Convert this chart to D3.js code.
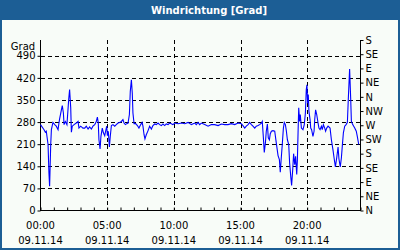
<!DOCTYPE html>
<html>
<head>
<meta charset="utf-8">
<script src="https://cdn.jsdelivr.net/npm/d3@7"></script>
<style>
    html, body { margin: 0; padding: 0; background: #f8fcf8; }
    svg { display: block; font-family: "DejaVu Sans", sans-serif; }
    .grid line { stroke: #000; stroke-dasharray: 4,3; shape-rendering: crispEdges; }
    .axis-line { stroke: #000; shape-rendering: crispEdges; }
    .lbl { font-size: 10px; fill: #000; }
</style>
</head>
<body>
<svg id="chart" width="400" height="250"></svg>
<script>
// Windrichtung, 09.11.14 - minutes since 00:00 and direction in degrees
const minutes = [0, 16, 22, 26, 34, 38, 41, 46, 49, 56, 64, 71, 79, 83, 86, 94, 98, 103, 106, 112,
    119, 127, 131, 136, 139, 143, 151, 161, 169, 173, 181, 191, 199, 206, 214, 221, 229, 236, 244, 251,
    256, 260, 263, 268, 272, 278, 283, 289, 293, 298, 301, 305, 310, 314, 319, 326, 334, 341, 349, 356,
    364, 371, 376, 382, 388, 394, 400, 404, 409, 413, 416, 421, 428, 436, 443, 451, 457, 461, 466, 470,
    476, 484, 491, 499, 506, 514, 521, 529, 536, 544, 551, 559, 566, 574, 581, 589, 596, 604, 619, 634,
    649, 664, 679, 694, 701, 709, 716, 724, 739, 754, 769, 784, 799, 814, 829, 844, 859, 874, 889, 904,
    911, 919, 926, 934, 941, 949, 956, 964, 971, 979, 986, 994, 998, 1003, 1007, 1012, 1016, 1021, 1025, 1030,
    1034, 1039, 1046, 1054, 1061, 1069, 1075, 1079, 1084, 1088, 1093, 1097, 1102, 1106, 1111, 1117, 1121, 1126, 1130, 1135,
    1139, 1144, 1148, 1153, 1156, 1159, 1162, 1166, 1169, 1174, 1181, 1187, 1192, 1196, 1199, 1202, 1205, 1208, 1213, 1216,
    1220, 1226, 1231, 1234, 1238, 1243, 1249, 1253, 1258, 1264, 1268, 1273, 1279, 1283, 1288, 1294, 1303, 1309, 1316, 1321,
    1327, 1333, 1339, 1343, 1349, 1354, 1358, 1363, 1369, 1375, 1381, 1385, 1391, 1396, 1399, 1405, 1414, 1421, 1426, 1432];
const degrees = [272, 256, 248, 251, 209, 119, 77, 209, 256, 279, 272, 267, 256, 277, 290, 319, 332, 309, 272, 282,
    272, 353, 383, 325, 248, 267, 272, 277, 282, 261, 267, 261, 261, 267, 258, 265, 258, 267, 272, 282,
    296, 277, 224, 195, 235, 261, 246, 237, 251, 267, 237, 251, 201, 235, 269, 272, 267, 272, 277, 279,
    282, 288, 277, 272, 275, 277, 304, 377, 414, 372, 309, 275, 275, 269, 261, 272, 279, 267, 240, 227,
    240, 253, 267, 258, 269, 274, 272, 277, 272, 269, 274, 269, 274, 272, 277, 275, 272, 277, 275, 277,
    275, 279, 272, 277, 272, 279, 272, 277, 272, 267, 272, 272, 269, 274, 272, 272, 275, 272, 277, 275,
    269, 261, 267, 272, 279, 272, 267, 261, 267, 269, 272, 277, 282, 230, 184, 214, 251, 274, 230, 224,
    243, 251, 253, 251, 214, 174, 161, 121, 172, 209, 261, 279, 272, 254, 224, 209, 151, 109, 79, 130,
    180, 145, 172, 114, 161, 246, 325, 282, 304, 261, 256, 272, 309, 383, 398, 340, 367, 314, 288, 261,
    256, 235, 251, 288, 319, 304, 277, 261, 256, 267, 256, 272, 261, 251, 261, 267, 261, 224, 193, 167,
    138, 167, 201, 163, 138, 167, 203, 246, 267, 272, 279, 351, 448, 351, 282, 272, 261, 251, 233, 209];

const gradTicks = [0, 70, 140, 210, 280, 350, 420, 490];
const compassTicks = [0, 45, 90, 135, 180, 225, 270, 315, 360, 405, 450, 495, 540];
const compassLabels = ["N", "NE", "E", "SE", "S", "SW", "W", "NW", "N", "NE", "E", "SE", "S"];
const hourLabels = ["00:00", "05:00", "10:00", "15:00", "20:00"];
const dateLabel = "09.11.14";
const titleText = "Windrichtung [Grad]";
const unitText = "Grad";

function drawWindChart() {
    const svg = d3.select("#chart");
    const blue = "#1c5e95";

    // 1. Frame & title bar
    svg.append("rect").attr("x", 0).attr("y", 0).attr("width", 400).attr("height", 250).attr("fill", blue);
    svg.append("rect").attr("x", 2).attr("y", 20).attr("width", 396).attr("height", 228).attr("fill", "#f8fcf8");
    svg.append("text").attr("x", 209).attr("y", 14).attr("text-anchor", "middle")
        .attr("fill", "#fff").style("font-size", "10px").style("font-weight", "bold").text(titleText);

    // 2. Scales
    const left = 40.5, right = 360.5, top = 40, bottom = 210.5;
    const x = d3.scaleLinear().domain([0, 1440]).range([left, right]);
    const y = d3.scaleLinear().domain([0, 540]).range([bottom, top]);
    const hourTicks = hourLabels.map(s => +s.slice(0, 2) * 60);

    // 3. Grid
    const grid = svg.append("g").attr("class", "grid");
    grid.selectAll(".h").data(gradTicks.slice(1)).join("line")
        .attr("x1", left).attr("x2", right)
        .attr("y1", d => Math.round(y(d)) + 0.5).attr("y2", d => Math.round(y(d)) + 0.5);
    grid.selectAll(".v").data(hourTicks.slice(1)).join("line")
        .attr("y1", top).attr("y2", bottom)
        .attr("x1", d => Math.round(x(d)) + 0.5).attr("x2", d => Math.round(x(d)) + 0.5);

    // 4. Axes
    const gl = svg.append("g").attr("transform", `translate(${left},0)`)
        .call(d3.axisLeft(y).tickValues(gradTicks).tickSize(3).tickPadding(2));
    const gr = svg.append("g").attr("transform", `translate(${right},0)`)
        .call(d3.axisRight(y).tickValues(compassTicks).tickSize(3).tickPadding(2)
            .tickFormat((d, i) => compassLabels[i]));
    const gb = svg.append("g").attr("transform", `translate(0,${bottom})`)
        .call(d3.axisTop(x).tickValues(d3.range(0, 1441, 60)).tickSize(3).tickFormat(""));
    [gl, gr, gb].forEach(g => {
        g.select(".domain").remove();
        g.selectAll("line").attr("stroke", "#000");
        g.selectAll("text").attr("class", "lbl").attr("fill", "#000").style("font-family", null).style("font-size", null);
        g.attr("font-family", null).attr("font-size", null);
    });
    svg.append("line").attr("class", "axis-line").attr("x1", left).attr("x2", left).attr("y1", top).attr("y2", bottom + 0.5);
    svg.append("line").attr("class", "axis-line").attr("x1", right).attr("x2", right).attr("y1", top).attr("y2", bottom + 0.5);
    svg.append("line").attr("class", "axis-line").attr("x1", left).attr("x2", right).attr("y1", bottom).attr("y2", bottom);

    svg.append("text").attr("class", "lbl").attr("x", 23).attr("y", 50).attr("text-anchor", "middle").text(unitText);

    const xl = svg.append("g").selectAll("g").data(hourLabels).join("g")
        .attr("transform", d => `translate(${x(+d.slice(0, 2) * 60)},0)`);
    xl.append("text").attr("class", "lbl").attr("y", 229).attr("text-anchor", "middle").text(d => d);
    xl.append("text").attr("class", "lbl").attr("y", 244).attr("text-anchor", "middle").text(dateLabel);

    // 5. Line
    const data = minutes.map((m, i) => ({ m, v: degrees[i] }));
    svg.append("path").datum(data)
        .attr("fill", "none").attr("stroke", "#0000ff").attr("stroke-width", 1.1)
        .attr("d", d3.line().x(d => x(d.m)).y(d => y(d.v)));
}

drawWindChart();
</script>
</body>
</html>
